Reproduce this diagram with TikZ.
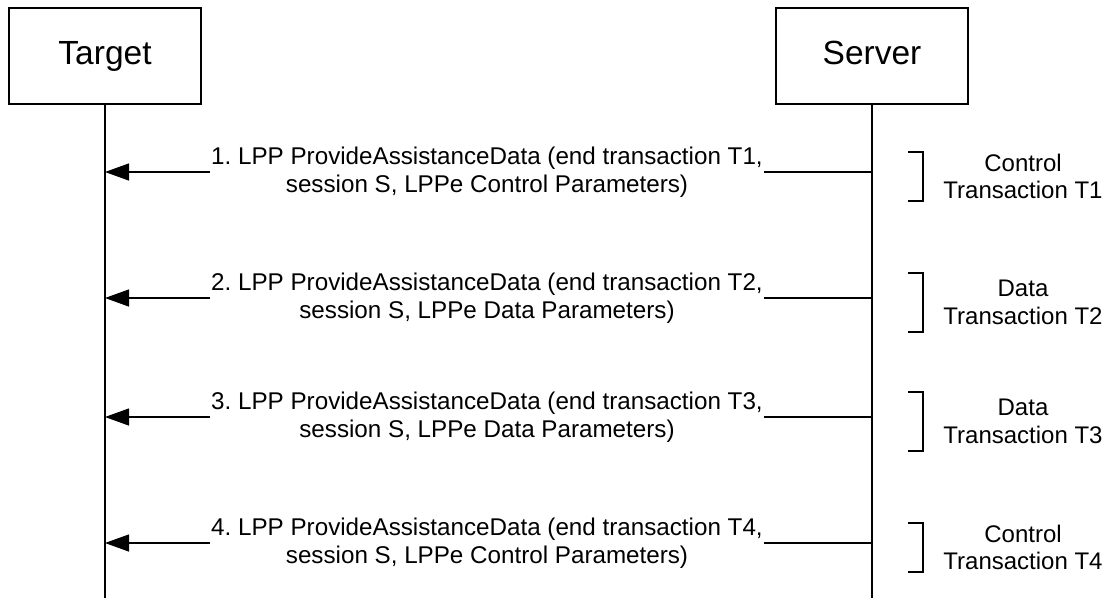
\documentclass[tikz,border=0pt]{standalone}
\usepackage{fontspec}
\setmainfont{Liberation Sans}
\usetikzlibrary{arrows.meta}
\frenchspacing
\begin{document}
\begin{tikzpicture}[x=1pt,y=-1pt,line width=1.3pt,
  actor/.style={draw,minimum width=192pt,minimum height=96pt,inner sep=0pt,text height=24pt,text depth=8pt,font=\fontsize{33.5}{40}\selectfont},
  msg/.style={align=center,inner sep=1pt,font=\fontsize{24.2}{27.6}\selectfont},
  lab/.style={align=center,inner sep=0pt,font=\fontsize{24}{27.6}\selectfont},
  arr/.style={-{Triangle[length=24pt,width=17pt]}}]
\useasboundingbox (0,0) rectangle (1108,598);
\node[actor] (T) at (105,56) {Target};
\node[actor] (S) at (872,56) {Server};
\coordinate (Tend) at (105,598);
\coordinate (Send) at (872,598);
\draw (T.south) -- (Tend);
\draw (S.south) -- (Send);
\foreach \y/\n/\k/\bh in {172/1/Control/49, 298/2/Data/59, 417/3/Data/59, 543/4/Control/49}{
  \coordinate (tl\n) at (105,\y);
  \coordinate (sl\n) at (872,\y);
  \node[msg] (m\n) at (487,\y) {\n. LPP ProvideAssistanceData (end transaction T\n,\\session S, LPPe \k{} Parameters)};
  \draw[arr] (m\n.west) -- (tl\n);
  \draw (sl\n) -- (m\n.east);
  \pgfmathsetmacro\bt{\y+4.5-\bh/2}
  \pgfmathsetmacro\bb{\y+4.5+\bh/2}
  \pgfmathsetmacro\bc{\y+4.5}
  \draw (908,\bt) -- (923,\bt) -- (923,\bb) -- (908,\bb);
  \node[lab] (b\n) at (1023,\bc) {\k\\Transaction T\n};
}
\end{tikzpicture}
\end{document}
